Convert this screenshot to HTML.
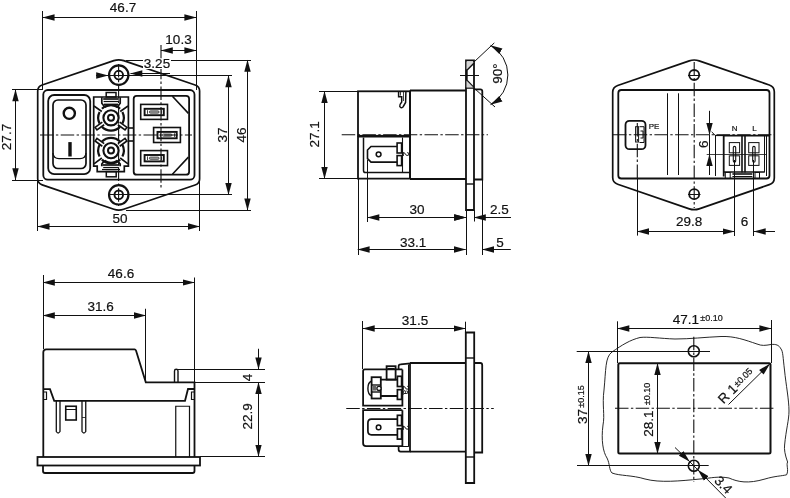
<!DOCTYPE html>
<html><head><meta charset="utf-8"><style>
html,body{margin:0;padding:0;background:#fff;}
svg{display:block;}
text{font-family:"Liberation Sans",sans-serif;fill:#111;stroke:#111;stroke-width:0.2;}
svg{filter:grayscale(1);}
</style></head><body>
<svg width="790" height="498" viewBox="0 0 790 498">
<defs>
<marker id="a" markerUnits="userSpaceOnUse" markerWidth="13" markerHeight="8" viewBox="-12 -4 13 8" refX="0" refY="0" orient="auto-start-reverse"><path d="M0.3,0 L-11.8,-3.2 L-11.8,3.2 Z" fill="#111"/></marker>
</defs>
<g fill="none" stroke="#111">
<path d="M37.7,91.07295738381 L37.7,178.82704261619 Q37.7,183.32704261619 42.2,184.86154261619 L113.81,209.28 A15.3,15.3 0 0 0 123.69,209.28 L195.1,184.93 Q199.6,183.40 199.6,178.90 L199.6,91.00 Q199.6,86.50 195.1,84.97 L123.69,60.62 A15.3,15.3 0 0 0 113.81,60.62 L42.2,85.04 Q37.7,86.57 37.7,91.07 Z" stroke-width="1.7" />
<rect x="43.3" y="90" width="151.2" height="89.7" rx="4.5" stroke-width="1.8"/>
<rect x="48.2" y="95" width="42" height="79.2" rx="6" stroke-width="1.8"/>
<rect x="53" y="100" width="33" height="68.5" rx="5" stroke-width="1.7"/>
<path d="M52.9,153 Q53.5,158.6 59,158.6 L80,158.6 Q85.5,158.6 86,153" stroke-width="1.3" />
<circle cx="69.3" cy="113.3" r="5.6" stroke-width="2.4" />
<line x1="70" y1="142.1" x2="70" y2="156.5" stroke-width="3.4" />
<path d="M93.7,166.2 L93.7,97 L128.4,97 L128.4,166.2 L124.3,166.2 L124.3,171.6 L97.2,171.6 L97.2,166.2 Z" stroke-width="1.7" />
<rect x="106.2" y="92.5" width="9.8" height="4.5" rx="0" stroke-width="1.5"/>
<rect x="106.3" y="171.6" width="9.9" height="5.2" rx="0" stroke-width="1.5"/>
<circle cx="111.0" cy="117.8" r="3.0" stroke-width="2.0" />
<circle cx="111.0" cy="117.8" r="7.6" stroke-width="2.1" />
<path d="M122.40,111.99 A12.8,12.8 0 0 1 122.40,123.61" stroke-width="2.2" />
<path d="M99.60,123.61 A12.8,12.8 0 0 1 99.60,111.99" stroke-width="2.2" />
<path d="M120.05,126.85 A12.8,12.8 0 0 1 101.95,126.85" stroke-width="2.2" />
<path d="M101.95,108.75 A12.8,12.8 0 0 1 120.05,108.75" stroke-width="2.2" />
<path d="M119.71,122.15 L126.91,127.38 L125.03,129.97 L117.83,124.74" stroke-width="1.6" />
<path d="M104.17,124.74 L96.97,129.97 L95.09,127.38 L102.29,122.15" stroke-width="1.6" />
<circle cx="111.0" cy="150.6" r="3.0" stroke-width="2.0" />
<circle cx="111.0" cy="150.6" r="7.6" stroke-width="2.1" />
<path d="M122.40,144.79 A12.8,12.8 0 0 1 122.40,156.41" stroke-width="2.2" />
<path d="M99.60,156.41 A12.8,12.8 0 0 1 99.60,144.79" stroke-width="2.2" />
<path d="M120.05,159.65 A12.8,12.8 0 0 1 101.95,159.65" stroke-width="2.2" />
<path d="M101.95,141.55 A12.8,12.8 0 0 1 120.05,141.55" stroke-width="2.2" />
<path d="M102.29,146.25 L95.09,141.02 L96.97,138.43 L104.17,143.66" stroke-width="1.6" />
<path d="M117.83,143.66 L125.03,138.43 L126.91,141.02 L119.71,146.25" stroke-width="1.6" />
<path d="M94,106 L101.8,111.5 M128,106 L120.2,111.5" stroke-width="1.6" />
<path d="M101.8,97.3 L101.8,103.2 L104.5,106.8 M120.2,97.3 L120.2,103.2 L117.5,106.8" stroke-width="1.7" />
<line x1="103.2" y1="99" x2="118.8" y2="99" stroke-width="1.7" />
<line x1="103.6" y1="101.5" x2="118.4" y2="101.5" stroke-width="1.2" />
<path d="M104,104.4 L118,104.4" stroke-width="1.6" />
<path d="M104.6,107.2 Q111,103.4 117.4,107.2" stroke-width="1.8" />
<path d="M94,163.8 L101.8,158 M128,163.8 L120.2,158" stroke-width="1.6" />
<path d="M101.8,166.2 L101.8,164 L104.5,160.6 M120.2,166.2 L120.2,164 L117.5,160.6" stroke-width="1.7" />
<line x1="102.5" y1="165" x2="119.5" y2="165" stroke-width="1.7" />
<line x1="103.2" y1="167.5" x2="118.8" y2="167.5" stroke-width="1.2" />
<line x1="102" y1="169.5" x2="120" y2="169.5" stroke-width="1.2" />
<path d="M104.6,160.6 Q111,164.6 117.4,160.6" stroke-width="1.8" />
<line x1="128.4" y1="128" x2="133.7" y2="128" stroke-width="1.6" />
<line x1="128.4" y1="141" x2="133.7" y2="141" stroke-width="1.6" />
<rect x="133.7" y="95.8" width="55.4" height="78.9" rx="3" stroke-width="1.8"/>
<path d="M172.4,96.3 L188.4,113.4 M172.4,174.2 L188.4,157.1" stroke-width="1.6" />
<rect x="140.7" y="104.4" width="26.8" height="15.0" rx="0" stroke-width="1.6"/>
<rect x="144.6" y="108.80000000000001" width="19.2" height="6.4" rx="0" stroke-width="1.9"/>
<rect x="149.30" y="110.80" width="9.8" height="2.4" rx="1.2" fill="#999" stroke="#333" stroke-width="0.7"/>
<line x1="147.5" y1="110.2" x2="147.5" y2="113.80000000000001" stroke-width="0.8" />
<line x1="161.5" y1="110.2" x2="161.5" y2="113.80000000000001" stroke-width="0.8" />
<rect x="153.6" y="127.5" width="26.8" height="15.0" rx="0" stroke-width="1.6"/>
<rect x="157.5" y="131.9" width="19.2" height="6.4" rx="0" stroke-width="1.9"/>
<rect x="162.20" y="133.90" width="9.8" height="2.4" rx="1.2" fill="#999" stroke="#333" stroke-width="0.7"/>
<line x1="160.5" y1="133.3" x2="160.5" y2="136.9" stroke-width="0.8" />
<line x1="174.5" y1="133.3" x2="174.5" y2="136.9" stroke-width="0.8" />
<rect x="140.7" y="150.6" width="26.8" height="15.0" rx="0" stroke-width="1.6"/>
<rect x="144.6" y="155.0" width="19.2" height="6.4" rx="0" stroke-width="1.9"/>
<rect x="149.30" y="157.00" width="9.8" height="2.4" rx="1.2" fill="#999" stroke="#333" stroke-width="0.7"/>
<line x1="147.5" y1="156.4" x2="147.5" y2="160.0" stroke-width="0.8" />
<line x1="161.5" y1="156.4" x2="161.5" y2="160.0" stroke-width="0.8" />
<circle cx="118.75" cy="75.1" r="9.7" stroke-width="2.2" />
<circle cx="118.75" cy="75.1" r="4.3" stroke-width="1.9" />
<circle cx="118.75" cy="194.8" r="9.7" stroke-width="2.2" />
<circle cx="118.75" cy="194.8" r="4.3" stroke-width="1.9" />
<line x1="161" y1="45" x2="161" y2="190" stroke-width="1.1" stroke-dasharray="13.5 2.4 2.4 2.4"/>
<line x1="118.6" y1="64" x2="118.6" y2="206" stroke-width="1.1" stroke-dasharray="13.5 2.4 2.4 2.4"/>
<line x1="40" y1="135" x2="192" y2="135" stroke-width="1.1" stroke-dasharray="13.5 2.4 2.4 2.4"/>
<line x1="42.5" y1="11" x2="42.5" y2="90" stroke-width="1.0" />
<line x1="196.5" y1="11" x2="196.5" y2="90" stroke-width="1.0" />
<line x1="37.5" y1="176" x2="37.5" y2="231" stroke-width="1.0" />
<line x1="199.5" y1="176" x2="199.5" y2="231" stroke-width="1.0" />
<line x1="12" y1="89.5" x2="43" y2="89.5" stroke-width="1.0" />
<line x1="12" y1="180.5" x2="43" y2="180.5" stroke-width="1.0" />
<line x1="126" y1="60.5" x2="251" y2="60.5" stroke-width="1.0" />
<line x1="126" y1="210.5" x2="251" y2="210.5" stroke-width="1.0" />
<line x1="108" y1="75.5" x2="232" y2="75.5" stroke-width="1.0" />
<line x1="108" y1="194.5" x2="232" y2="194.5" stroke-width="1.0" />
<line x1="42.75" y1="17.5" x2="196.2" y2="17.5" stroke-width="1.0" marker-start="url(#a)" marker-end="url(#a)"/>
<line x1="161" y1="50.5" x2="196.2" y2="50.5" stroke-width="1.0" marker-start="url(#a)" marker-end="url(#a)"/>
<line x1="37.7" y1="226.5" x2="199.6" y2="226.5" stroke-width="1.0" marker-start="url(#a)" marker-end="url(#a)"/>
<line x1="15.5" y1="89.5" x2="15.5" y2="180" stroke-width="1.0" marker-start="url(#a)" marker-end="url(#a)"/>
<line x1="228.5" y1="75.5" x2="228.5" y2="194.8" stroke-width="1.0" marker-start="url(#a)" marker-end="url(#a)"/>
<line x1="247.5" y1="60" x2="247.5" y2="210.2" stroke-width="1.0" marker-start="url(#a)" marker-end="url(#a)"/>
<line x1="96" y1="75.5" x2="108" y2="75.5" stroke-width="1.0" marker-end="url(#a)"/>
<line x1="170" y1="73.5" x2="130.5" y2="73.5" stroke-width="1.0" marker-end="url(#a)"/>
<rect x="358" y="91.3" width="52" height="44.5" rx="0" stroke-width="1.8"/>
<path d="M398.6,91.5 L398.6,96.7 L401.7,96.7 L401.7,102 Q399.5,104.5 399.8,106.5 Q400.8,108.6 403,107 L405.6,102.5 L405.9,91.5" stroke-width="1.5" />
<line x1="400.5" y1="92" x2="400.5" y2="95.5" stroke-width="0.8" />
<line x1="403.5" y1="92" x2="403.5" y2="101" stroke-width="0.8" />
<path d="M358,136.7 L358,178.7 L410,178.7 L410,136.7 Z" stroke-width="1.8" />
<path d="M363.5,137.5 L363.5,170.5 Q363.5,172.6 365.5,172.6 L409.7,172.6" stroke-width="1.5" />
<line x1="402.5" y1="137.5" x2="402.5" y2="172.5" stroke-width="1.1" />
<path d="M397.1,146.5 L371,146.5 L367.5,150 L367.5,158.6 L371,162.1 L397.1,162.1" stroke-width="1.6" />
<rect x="397.1" y="143" width="4.5" height="10" rx="0" stroke-width="1.6"/>
<rect x="397.1" y="155.6" width="4.5" height="10" rx="0" stroke-width="1.6"/>
<circle cx="378.6" cy="154.3" r="2.4" stroke-width="1.5" />
<path d="M410,90.5 L466,90.5 M410,179 L466,179" stroke-width="1.8" />
<line x1="410" y1="90.5" x2="410" y2="179" stroke-width="1.8" />
<path d="M466,210 L466,60.3 L474,60.3 L474,210 Z" stroke-width="1.8" />
<line x1="466" y1="184" x2="474" y2="184" stroke-width="1.4" />
<path d="M474,62.8 L466.8,70 L466.8,80.3 L474,87.8" stroke-width="1.8" />
<line x1="465.4" y1="88" x2="474" y2="88" stroke-width="1.6" />
<path d="M473.5,62.5 L466.5,69.5 L466.5,61.5 L472.5,61.5 Z M473.5,87.5 L466.5,80.5 L466.5,87.5 Z" fill="#d4d4d4" stroke="none"/>
<line x1="460" y1="75.5" x2="479" y2="75.5" stroke-width="1.0" />
<path d="M474,89.3 L480.3,89.3 Q482.3,89.3 482.3,91.3 L482.3,179.5 L474,179.5" stroke-width="1.8" />
<line x1="474" y1="62" x2="494.3" y2="42.9" stroke-width="1.0" />
<line x1="474" y1="88" x2="495" y2="107" stroke-width="1.0" />
<path d="M490.6,45.4 A34,34 0 0 1 490.6,104.6" stroke-width="1" marker-start="url(#a)" marker-end="url(#a)"/>
<line x1="341.7" y1="134.7" x2="487.9" y2="134.7" stroke-width="1.1" stroke-dasharray="13.5 2.4 2.4 2.4"/>
<line x1="319" y1="91.5" x2="358" y2="91.5" stroke-width="1.0" />
<line x1="319" y1="178.5" x2="358" y2="178.5" stroke-width="1.0" />
<line x1="324.5" y1="91.3" x2="324.5" y2="178.7" stroke-width="1.0" marker-start="url(#a)" marker-end="url(#a)"/>
<line x1="358.5" y1="178.7" x2="358.5" y2="255" stroke-width="1.0" />
<line x1="367.5" y1="160" x2="367.5" y2="222" stroke-width="1.0" />
<line x1="466.5" y1="210" x2="466.5" y2="255" stroke-width="1.0" />
<line x1="474.5" y1="210" x2="474.5" y2="221.5" stroke-width="1.0" />
<line x1="482.5" y1="179.5" x2="482.5" y2="255" stroke-width="1.0" />
<line x1="367.5" y1="217.5" x2="466" y2="217.5" stroke-width="1.0" marker-start="url(#a)" marker-end="url(#a)"/>
<line x1="454" y1="217.5" x2="466" y2="217.5" stroke-width="1.0" marker-end="url(#a)"/>
<line x1="511" y1="217.5" x2="474" y2="217.5" stroke-width="1.0" marker-end="url(#a)"/>
<line x1="357.8" y1="249.5" x2="465.7" y2="249.5" stroke-width="1.0" marker-start="url(#a)" marker-end="url(#a)"/>
<line x1="510.8" y1="249.5" x2="482.4" y2="249.5" stroke-width="1.0" marker-end="url(#a)"/>
<path d="M612.7,92.24411932307376 L612.7,177.45588067692623 Q612.7,182.45588067692623 617.7,184.18088067692622 L689.28,208.87 A15.1,15.1 0 0 0 699.12,208.87 L769.3,184.66 Q774.3,182.94 774.3,177.94 L774.3,91.76 Q774.3,86.76 769.3,85.04 L699.12,60.83 A15.1,15.1 0 0 0 689.28,60.83 L617.7,85.52 Q612.7,87.24 612.7,92.24 Z" stroke-width="1.7" />
<rect x="618.3" y="90" width="151.2" height="88.5" rx="3" stroke-width="1.8"/>
<line x1="667.5" y1="93.3" x2="667.5" y2="175" stroke-width="1.0" />
<line x1="678.5" y1="93.3" x2="678.5" y2="175" stroke-width="1.0" />
<circle cx="694.2" cy="75" r="5.0" stroke-width="1.8" />
<line x1="688" y1="75.5" x2="700.5" y2="75.5" stroke-width="1.0" />
<circle cx="694.2" cy="194.2" r="5.0" stroke-width="1.8" />
<line x1="688" y1="194.5" x2="700.5" y2="194.5" stroke-width="1.0" />
<line x1="694.2" y1="62" x2="694.2" y2="208" stroke-width="1.1" stroke-dasharray="13.5 2.4 2.4 2.4"/>
<line x1="613" y1="134.8" x2="774" y2="134.8" stroke-width="1.1" stroke-dasharray="13.5 2.4 2.4 2.4"/>
<rect x="625.5" y="120.8" width="20" height="28.4" rx="4" stroke-width="1.8"/>
<rect x="635.6" y="126.7" width="3" height="15.3" rx="0" stroke-width="1.0"/>
<path d="M639.5,126.7 L644,126.7 L644,142.5 L639.5,142.5 M640.5,131 L643,131 L643,138 L640.5,138" stroke-width="1.0" />
<line x1="637.3" y1="123" x2="637.3" y2="178" stroke-width="1.1" stroke-dasharray="13.5 2.4 2.4 2.4"/>
<line x1="637.5" y1="178" x2="637.5" y2="235.6" stroke-width="1.0" />
<path d="M723.7,176.5 L723.7,135.6 L769,135.6" stroke-width="1.8" />
<line x1="723.7" y1="172" x2="764.3" y2="172" stroke-width="1.4" />
<line x1="742" y1="135.6" x2="742" y2="172.5" stroke-width="1.6" />
<line x1="745" y1="135.6" x2="745" y2="172.5" stroke-width="1.6" />
<line x1="764.5" y1="135.6" x2="764.5" y2="172.5" stroke-width="1.0" />
<line x1="766.5" y1="135.6" x2="766.5" y2="176" stroke-width="1.0" />
<rect x="725.3" y="172.5" width="4.9" height="6" rx="0" stroke-width="1.0"/>
<line x1="732.4" y1="174" x2="752.4" y2="174" stroke-width="1.6" />
<line x1="732.4" y1="176.5" x2="752.4" y2="176.5" stroke-width="1.0" />
<rect x="755" y="172.5" width="4.5" height="6" rx="0" stroke-width="1.0"/>
<rect x="729.3" y="142.6" width="10.3" height="10.2" rx="0" stroke-width="1.0"/>
<rect x="729.3" y="155.8" width="10.3" height="9.6" rx="0" stroke-width="1.0"/>
<rect x="733.3" y="146.4" width="2.4" height="15.8" rx="1.2" stroke-width="1.1"/>
<line x1="734.5" y1="160" x2="734.5" y2="236" stroke-width="1.0" />
<rect x="748.6999999999999" y="142.6" width="10.3" height="10.2" rx="0" stroke-width="1.0"/>
<rect x="748.6999999999999" y="155.8" width="10.3" height="9.6" rx="0" stroke-width="1.0"/>
<rect x="752.6999999999999" y="146.4" width="2.4" height="15.8" rx="1.2" stroke-width="1.1"/>
<line x1="753.5" y1="160" x2="753.5" y2="236" stroke-width="1.0" />
<line x1="715.5" y1="135" x2="715.5" y2="176" stroke-width="1.0" />
<line x1="711.6" y1="131.8" x2="715" y2="135.2" stroke-width="1.0" />
<line x1="715" y1="135.5" x2="723.7" y2="135.5" stroke-width="1.2" />
<line x1="706.7" y1="154.5" x2="766.7" y2="154.5" stroke-width="0.8" />
<line x1="709.5" y1="110.8" x2="709.5" y2="134.7" stroke-width="1.0" marker-end="url(#a)"/>
<line x1="709.5" y1="175" x2="709.5" y2="154.2" stroke-width="1.0" marker-end="url(#a)"/>
<line x1="709.5" y1="134.7" x2="709.5" y2="154.2" stroke-width="1.0" />
<line x1="637.3" y1="231.5" x2="734.5" y2="231.5" stroke-width="1.0" marker-start="url(#a)" marker-end="url(#a)"/>
<line x1="775" y1="231.5" x2="753.9" y2="231.5" stroke-width="1.0" marker-end="url(#a)"/>
<path d="M43.3,457 L43.3,352.3 Q43.3,349.3 46.3,349.3 L134.6,349.3 Q135.5,349.3 136,350.5 L145.8,382.3 L194.5,382.3 L194.5,457" stroke-width="1.8" />
<path d="M43.3,389.2 L50,389.2 L54.2,400.8 L185,400.8 L188,389 L194.5,389" stroke-width="1.8" />
<path d="M43.8,392 L46.5,392 L46.5,399.5 L43.8,399.5" stroke-width="1.2" />
<path d="M194,392 L191.5,392 L191.5,399.5 L194,399.5" stroke-width="1.2" />
<path d="M174.5,382.3 L174.5,371 Q174.5,369.25 176.25,369.25 Q178,369.25 178,371 L178,382.3" stroke-width="1.4" />
<path d="M56.3,401 L56.3,431.5 Q58.1,434.5 60,431.5 L60,401" stroke-width="1.3" />
<path d="M82,401 L82,431.5 Q83.9,434.5 85.75,431.5 L85.75,401" stroke-width="1.3" />
<line x1="82" y1="417.5" x2="85.75" y2="417.5" stroke-width="0.8" />
<rect x="65.75" y="406.25" width="10.5" height="13.75" rx="0" stroke-width="1.6"/>
<line x1="65.75" y1="409.5" x2="76.25" y2="409.5" stroke-width="1.0" />
<path d="M175.75,457 L175.75,406.25 L189.5,406.25 L189.5,457" stroke-width="1.2" />
<rect x="37.5" y="457" width="162.5" height="8.5" rx="0" stroke-width="1.8"/>
<path d="M43,465.5 L43,471 Q43,473 45,473 L192.5,473 Q194.5,473 194.5,471 L194.5,465.5" stroke-width="1.8" />
<line x1="43.5" y1="275" x2="43.5" y2="349" stroke-width="1.0" />
<line x1="145.5" y1="308.75" x2="145.5" y2="382" stroke-width="1.0" />
<line x1="194.5" y1="277.5" x2="194.5" y2="382" stroke-width="1.0" />
<line x1="43" y1="282.5" x2="194.5" y2="282.5" stroke-width="1.0" marker-start="url(#a)" marker-end="url(#a)"/>
<line x1="43" y1="315.5" x2="145.8" y2="315.5" stroke-width="1.0" marker-start="url(#a)" marker-end="url(#a)"/>
<line x1="178" y1="369.5" x2="265" y2="369.5" stroke-width="1.0" />
<line x1="194.5" y1="382.5" x2="265" y2="382.5" stroke-width="1.0" />
<line x1="200" y1="456.5" x2="265" y2="456.5" stroke-width="1.0" />
<line x1="258.5" y1="348.75" x2="258.5" y2="369.25" stroke-width="1.0" marker-end="url(#a)"/>
<line x1="258.5" y1="382.2" x2="258.5" y2="456.5" stroke-width="1.0" marker-start="url(#a)" marker-end="url(#a)"/>
<path d="M402.4,369.4 L364.8,369.4 Q363.1,369.4 363.1,371 L363.1,405.6 L402.4,405.6 L402.4,369.4" stroke-width="1.8" />
<path d="M402.4,410.2 L363.1,410.2 L363.1,443.2 Q363.1,446.1 366,446.1 L402.4,446.1 L402.4,410.2" stroke-width="1.8" />
<path d="M398.6,369.4 L398.6,366.3 Q398.6,364.4 400.5,364.3 L410.5,363.3" stroke-width="1.7" />
<path d="M398.6,446.1 L398.6,449.6 Q398.6,451.6 400.6,451.6 L410.5,451.6" stroke-width="1.7" />
<line x1="408.5" y1="364.5" x2="408.5" y2="446.1" stroke-width="1.0" />
<line x1="402.4" y1="446.5" x2="408.9" y2="446.5" stroke-width="1.0" />
<rect x="386.6" y="366.2" width="9" height="13.4" rx="0" stroke-width="1.8"/>
<line x1="387.5" y1="368.5" x2="394.7" y2="368.5" stroke-width="1.0" />
<rect x="371.6" y="377.2" width="9.2" height="21.3" rx="0" stroke-width="1.8"/>
<line x1="371.6" y1="385" x2="380.8" y2="385" stroke-width="1.4" />
<line x1="371.6" y1="392" x2="380.8" y2="392" stroke-width="1.4" />
<rect x="372.6" y="385.6" width="3.6" height="5" fill="#666" stroke="none"/>
<circle cx="379" cy="388.4" r="2.1" fill="#fff" stroke="#111" stroke-width="1.3"/>
<path d="M371.6,381 Q367.9,382.5 367.9,388.4 Q367.9,394.3 371.6,395.8" stroke-width="1.4" />
<path d="M380.8,379.6 L397.4,379.6 M380.8,396 L397.4,396" stroke-width="1.8" />
<rect x="397.4" y="376.3" width="4.2" height="10.2" rx="0" stroke-width="1.7"/>
<rect x="397.4" y="389.7" width="4.2" height="9.7" rx="0" stroke-width="1.7"/>
<path d="M397.4,419.1 L371.4,419.1 Q367.9,419.1 367.9,423 L367.9,431 Q367.9,434.8 371.4,434.8 L397.4,434.8" stroke-width="1.7" />
<rect x="397.4" y="415.3" width="4.2" height="10.3" rx="0" stroke-width="1.7"/>
<rect x="397.4" y="428.8" width="4.2" height="10.3" rx="0" stroke-width="1.7"/>
<circle cx="378.6" cy="427.4" r="2.3" stroke-width="1.5" />
<path d="M410,363 L465.8,363 M410,451.7 L465.8,451.7" stroke-width="1.8" />
<line x1="410" y1="363" x2="410" y2="451.7" stroke-width="1.8" />
<path d="M465.8,483 L465.8,332.5 L474.2,332.5 L474.2,483 Z" stroke-width="1.8" />
<line x1="465.8" y1="358" x2="474.2" y2="358" stroke-width="1.4" />
<line x1="465.8" y1="457" x2="474.2" y2="457" stroke-width="1.4" />
<path d="M474.2,363 L480.2,363 Q482.2,363 482.2,365 L482.2,452.5 L474.2,452.5" stroke-width="1.8" />
<line x1="346.25" y1="408.5" x2="493.75" y2="408.5" stroke-width="1.1" stroke-dasharray="13.5 2.4 2.4 2.4"/>
<line x1="362.5" y1="321" x2="362.5" y2="369" stroke-width="1.0" />
<line x1="465.5" y1="321.7" x2="465.5" y2="332.5" stroke-width="1.0" />
<line x1="362.9" y1="328.5" x2="465.5" y2="328.5" stroke-width="1.0" marker-start="url(#a)" marker-end="url(#a)"/>
<rect x="618.3" y="363.2" width="152.2" height="90.3" rx="1.5" stroke-width="2.0"/>
<circle cx="693.8" cy="351.3" r="5.5" stroke-width="1.6" />
<circle cx="693.8" cy="465.8" r="5.5" stroke-width="1.6" />
<line x1="576.7" y1="351.5" x2="710" y2="351.5" stroke-width="1.0" />
<line x1="577" y1="465.5" x2="708.7" y2="465.5" stroke-width="1.0" />
<line x1="693.8" y1="336.7" x2="693.8" y2="482" stroke-width="1.1" stroke-dasharray="13.5 2.4 2.4 2.4"/>
<line x1="615" y1="408.3" x2="773.8" y2="408.3" stroke-width="1.1" stroke-dasharray="13.5 2.4 2.4 2.4"/>
<line x1="617.5" y1="321.3" x2="617.5" y2="363" stroke-width="1.0" />
<line x1="771.5" y1="320" x2="771.5" y2="363" stroke-width="1.0" />
<line x1="617.5" y1="328.5" x2="771.2" y2="328.5" stroke-width="1.0" marker-start="url(#a)" marker-end="url(#a)"/>
<line x1="588.5" y1="351.3" x2="588.5" y2="465.8" stroke-width="1.0" marker-start="url(#a)" marker-end="url(#a)"/>
<line x1="657.5" y1="363.3" x2="657.5" y2="453.7" stroke-width="1.0" marker-start="url(#a)" marker-end="url(#a)"/>
<line x1="728.5" y1="404.5" x2="769.8" y2="363.9" stroke-width="1.0" marker-end="url(#a)"/>
<line x1="675" y1="447.5" x2="689.6" y2="461.6" stroke-width="1.0" marker-end="url(#a)"/>
<line x1="725.7" y1="498" x2="698" y2="470" stroke-width="1.0" marker-end="url(#a)"/>
<line x1="689.6" y1="461.6" x2="698" y2="470" stroke-width="0.9" />
<path d="M640,337.5 C630,340 622,345 612,352 C605,357 606,370 604,390 C602,405 605,415 603,425 C601,440 603,452 607,458 C610,464 609,470 612,473 C620,476 632,475 645,479 C660,483 680,481 700,479 C712,478 718,476 729,478 C738,482 748,484 765,479 C775,476 782,476 786.6,474.8 C789,470 786,465 787.6,462 C785,455 784,449 784.6,445 C786,430 789,420 789,411 C789,400 786,385 784.5,370 C783,358 783,351 781,349 C779,345 776,344 771,344.5 C765,345.5 762,346 757,344 C745,340 735,336 721,336.5 C705,337.2 690,339 675,339 C660,338.5 648,336.5 640,337.5 Z" stroke-width="0.9" />
</g>
<text x="123" y="12.3" font-size="13.5" text-anchor="middle">46.7</text>
<text x="178.5" y="44" font-size="13.5" text-anchor="middle">10.3</text>
<rect x="143" y="58.5" width="28" height="10.5" fill="#fff"/>
<text x="157" y="68.3" font-size="13.5" text-anchor="middle">3.25</text>
<text x="120" y="222.5" font-size="13.5" text-anchor="middle">50</text>
<text transform="translate(11.4,137) rotate(-90)" font-size="13.5" text-anchor="middle">27.7</text>
<text transform="translate(227,135) rotate(-90)" font-size="13.5" text-anchor="middle">37</text>
<text transform="translate(246,135) rotate(-90)" font-size="13.5" text-anchor="middle">46</text>
<text transform="translate(319.3,134.3) rotate(-90)" font-size="13.5" text-anchor="middle">27.1</text>
<text x="417" y="214.4" font-size="13.5" text-anchor="middle">30</text>
<text x="499.5" y="214.3" font-size="13.5" text-anchor="middle">2.5</text>
<text x="413.2" y="247" font-size="13.5" text-anchor="middle">33.1</text>
<text x="500" y="247" font-size="13.5" text-anchor="middle">5</text>
<text transform="translate(501.5,73.6) rotate(-90)" font-size="13.5" text-anchor="middle">90°</text>
<text transform="translate(403.0,151.8) rotate(90)" font-size="8.2" text-anchor="start">2</text>
<text x="689.2" y="226" font-size="13.5" text-anchor="middle">29.8</text>
<text x="744.4" y="226" font-size="13.5" text-anchor="middle">6</text>
<text transform="translate(708.3,144.2) rotate(-90)" font-size="13.5" text-anchor="middle">6</text>
<text x="654" y="128.7" font-size="8" text-anchor="middle">PE</text>
<text x="734.6" y="130.8" font-size="8" text-anchor="middle">N</text>
<text x="754.4" y="130.8" font-size="8" text-anchor="middle">L</text>
<text x="121" y="278" font-size="13.5" text-anchor="middle">46.6</text>
<text x="100.6" y="311.3" font-size="13.5" text-anchor="middle">31.6</text>
<text transform="translate(252.3,377.5) rotate(-90)" font-size="13.5" text-anchor="middle">4</text>
<text transform="translate(251.6,416.3) rotate(-90)" font-size="13.5" text-anchor="middle">22.9</text>
<text x="415" y="325" font-size="13.5" text-anchor="middle">31.5</text>
<text transform="translate(403.0,385.4) rotate(90)" font-size="8.2" text-anchor="start">2a</text>
<text transform="translate(403.0,425.4) rotate(90)" font-size="8.2" text-anchor="start">2</text>
<text x="685.8" y="324.2" font-size="13.5" text-anchor="middle">47.1</text>
<text x="711.5" y="321.3" font-size="9" text-anchor="middle">±0.10</text>
<text transform="translate(586.7,416.5) rotate(-90)" font-size="13.5" text-anchor="middle">37</text>
<text transform="translate(583.5,396.5) rotate(-90)" font-size="9" text-anchor="middle">±0.15</text>
<text transform="translate(653.3,423.7) rotate(-90)" font-size="13.5" text-anchor="middle">28.1</text>
<text transform="translate(650.3,394) rotate(-90)" font-size="9" text-anchor="middle">±0.10</text>
<text transform="translate(723.5,404.5) rotate(-45)" font-size="13.5" text-anchor="start">R 1</text>
<text transform="translate(737.2,387.6) rotate(-45)" font-size="9" text-anchor="start">±0.05</text>
<text transform="translate(713.5,481.5) rotate(45)" font-size="13.5" text-anchor="start">3.4</text>
</svg>
</body></html>
